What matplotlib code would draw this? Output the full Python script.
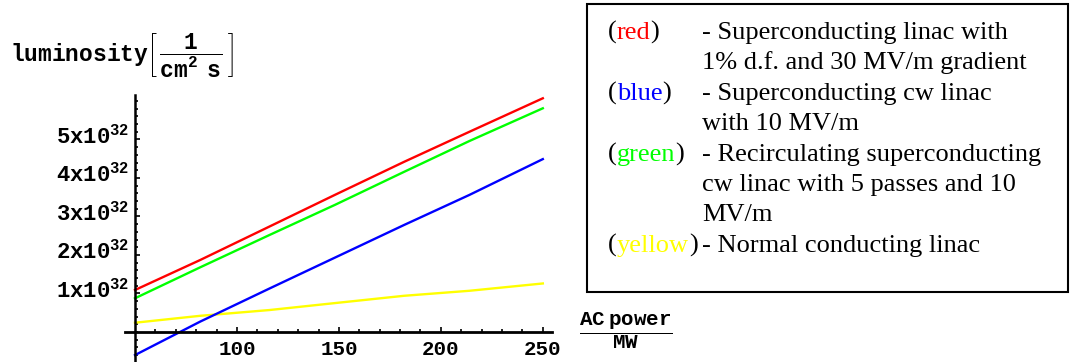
import matplotlib.pyplot as plt
import matplotlib.transforms as mtransforms
import numpy as np
from matplotlib.patches import Rectangle

W, H = 1081, 362   # output size in pixels

# AC power (MW) and luminosity, in units of 1e32 / (cm^2 s)
power  = [50, 82, 116, 148, 182, 214, 250]
red    = [1.09, 1.87, 2.74, 3.56, 4.42, 5.20, 6.07]
green  = [0.875, 1.68, 2.52, 3.30, 4.16, 4.96, 5.81]
blue   = [-0.60, 0.27, 1.13, 1.93, 2.78, 3.56, 4.49]
yellow = [0.24, 0.42, 0.57, 0.75, 0.94, 1.07, 1.26]

xticks = [100, 150, 200, 250]
yticks = [1, 2, 3, 4, 5]

# legend text
leg_words  = ["red", "blue", "green", "yellow"]
leg_colors = ["#ff0000", "#0000ff", "#00ff00", "#ffff00"]
leg_lines  = [["- Superconducting linac with", "1% d.f. and 30 MV/m gradient"],
              ["- Superconducting cw linac", "with 10 MV/m"],
              ["- Recirculating superconducting", "cw linac with 5 passes and 10", "MV/m"],
              ["- Normal conducting linac"]]

plt.rcParams['mathtext.fontset'] = 'custom'
plt.rcParams['mathtext.rm'] = 'Liberation Mono:bold'
plt.rcParams['mathtext.it'] = 'Liberation Mono:bold'
plt.rcParams['mathtext.bf'] = 'Liberation Mono:bold'

fig = plt.figure(figsize=(W / 100, H / 100), dpi=100)

def fx(x):
    return x / W

def fy(y):
    return 1 - y / H

# axes spanning x 45..254.5 and y -0.78..6.15 (pixel box 124.8..552, 95.2..362)
ax = fig.add_axes([fx(124.8), fy(362), fx(552 - 124.8), (362 - 95.2) / H])
ax.set_xlim(45, 254.5)
ax.set_ylim(-0.78, 6.15)
ax.patch.set_alpha(0)

ax.plot(power, red, color=leg_colors[0], lw=1.7)
ax.plot(power, green, color=leg_colors[2], lw=1.7)
ax.plot(power, yellow, color=leg_colors[3], lw=1.7)
ax.plot(power, blue, color=leg_colors[1], lw=1.7)

# Mathematica style crossing axes
ax.spines['left'].set_position(('data', 50))
ax.spines['bottom'].set_position(('data', 0))
ax.spines['top'].set_visible(False)
ax.spines['right'].set_visible(False)
ax.spines['left'].set_linewidth(1.8)
ax.spines['bottom'].set_linewidth(2.0)

ax.set_xticks(xticks)
ax.set_xticks(np.arange(60, 251, 10), minor=True)
ax.set_xticklabels([str(v) for v in xticks], fontfamily='Liberation Mono',
                   fontweight='bold', fontsize=15)
ax.set_yticks(yticks)
ax.set_yticks(np.arange(-0.6, 6.01, 0.2), minor=True)
ax.set_yticklabels([r'$\mathrm{%dx10}^{32}$' % v for v in yticks], fontsize=16)
ax.tick_params(which='both', direction='in', width=1.2)
ax.tick_params(which='major', length=3.5)
ax.tick_params(axis='x', which='major', pad=6)
ax.tick_params(axis='y', which='major', pad=4)
ax.tick_params(which='minor', length=2.5)

# nudge the y labels up a little, like the original
shift = mtransforms.ScaledTranslation(0, 6 / 100, fig.dpi_scale_trans)
for lab in ax.get_yticklabels():
    lab.set_transform(lab.get_transform() + shift)

# axis titles
fig.text(fx(10), fy(56),
         r'$\mathrm{luminosity}\left[\;\dfrac{1}{\mathrm{cm}^{2}\ \ \mathrm{s}}\;\right]$',
         fontsize=16.5, ha='left', va='center')
fig.text(fx(626), fy(331), r'$\dfrac{\mathrm{AC\ power}}{\mathrm{MW}}$',
         fontsize=15, ha='center', va='center')

# legend box
fig.add_artist(Rectangle((fx(587), fy(292)), fx(1068 - 587), (292 - 4) / H,
                         transform=fig.transFigure, fill=False, lw=1.5, ec='black'))

serif = dict(family='Liberation Serif', fontsize=19)
row = 0
for word, col, lines in zip(leg_words, leg_colors, leg_lines):
    base = 39 + 30.4 * row
    t = fig.text(fx(608), fy(base), "(", va='baseline', **serif)
    t = ax.annotate(word, xy=(1, 0), xycoords=t, va='bottom', color=col, **serif)
    ax.annotate(")", xy=(1, 0), xycoords=t, va='bottom', **serif)
    for ln in lines:
        fig.text(fx(702), fy(39 + 30.4 * row), ln, va='baseline', **serif)
        row += 1

fig.savefig("out.png", dpi=100)
